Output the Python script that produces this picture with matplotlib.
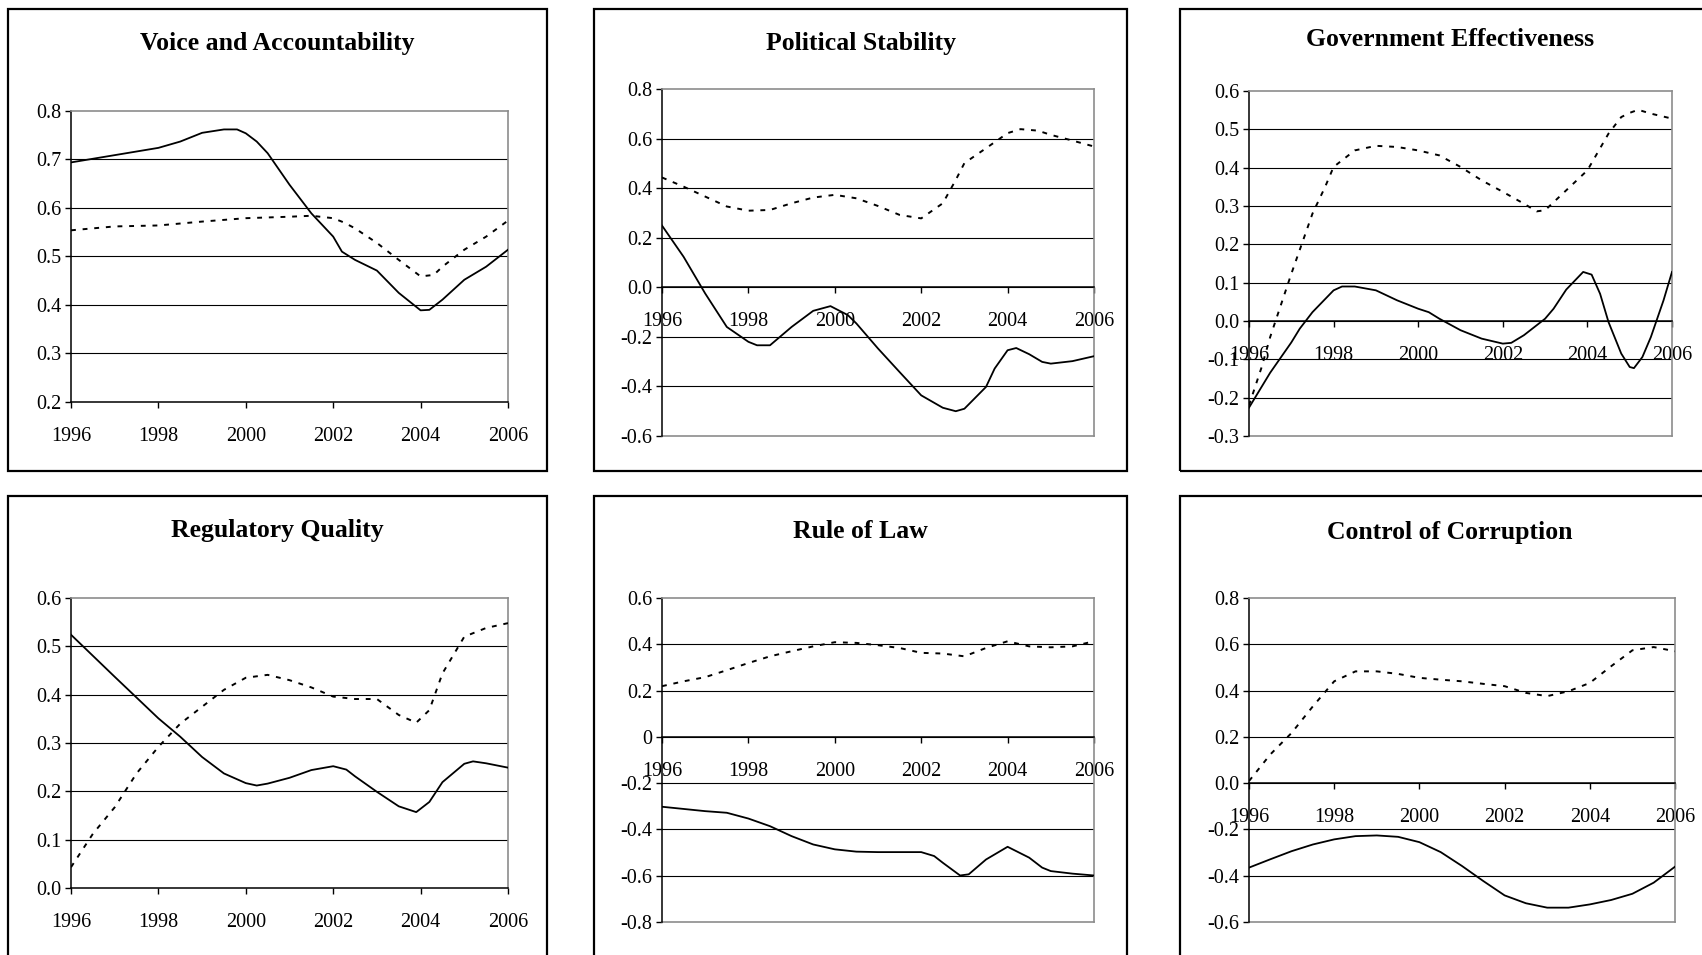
import matplotlib
matplotlib.use('Agg')
import matplotlib.pyplot as plt
from matplotlib.patches import Rectangle
import numpy as np

plt.rcParams['font.family'] = ['Liberation Serif', 'DejaVu Serif']
plt.rcParams['axes.unicode_minus'] = False

W, H = 1702, 955

# --- data ---
va_solid_x = [1996, 1997, 1998, 1998.5, 1999, 1999.5, 1999.8, 2000, 2000.25, 2000.5, 2001, 2001.5,
              2002, 2002.2, 2002.5, 2003, 2003.5, 2004, 2004.2, 2004.5, 2005, 2005.5, 2006]
va_solid = [0.694, 0.709, 0.724, 0.737, 0.755, 0.762, 0.762, 0.754, 0.737, 0.713, 0.648, 0.589,
            0.541, 0.510, 0.493, 0.471, 0.425, 0.389, 0.390, 0.411, 0.452, 0.479, 0.514]
va_dot_x = [1996, 1997, 1998, 1999, 2000, 2001, 2001.5, 2002, 2002.25, 2002.5, 2003, 2003.5,
            2004, 2004.3, 2004.5, 2005, 2005.5, 2006]
va_dot = [0.554, 0.562, 0.564, 0.572, 0.579, 0.582, 0.584, 0.579, 0.570, 0.558, 0.528, 0.493,
          0.459, 0.462, 0.479, 0.514, 0.541, 0.574]

ps_solid_x = [1996, 1996.5, 1997, 1997.5, 1998, 1998.2, 1998.5, 1999, 1999.5, 1999.9, 2000.3, 2000.5,
              2001, 2001.5, 2002, 2002.5, 2002.8, 2003, 2003.5, 2003.7, 2004, 2004.2, 2004.5,
              2004.8, 2005, 2005.5, 2006]
ps_solid = [0.249, 0.123, -0.025, -0.160, -0.220, -0.234, -0.234, -0.160, -0.095, -0.076, -0.112, -0.146,
            -0.247, -0.342, -0.436, -0.486, -0.500, -0.490, -0.402, -0.328, -0.254, -0.245, -0.270,
            -0.301, -0.308, -0.298, -0.278]
ps_dot_x = [1996, 1996.5, 1997, 1997.5, 1998, 1998.5, 1999, 1999.5, 2000, 2000.5, 2001, 2001.5,
            2002, 2002.5, 2002.8, 2003, 2003.5, 2004, 2004.3, 2004.7, 2005, 2005.5, 2006]
ps_dot = [0.443, 0.406, 0.366, 0.326, 0.309, 0.312, 0.339, 0.362, 0.373, 0.359, 0.328, 0.292,
          0.278, 0.339, 0.433, 0.501, 0.561, 0.622, 0.638, 0.632, 0.615, 0.592, 0.568]

ge_solid_x = [1996, 1996.5, 1997, 1997.2, 1997.5, 1998, 1998.2, 1998.5, 1999, 1999.5, 2000, 2000.25,
              2000.5, 2001, 2001.5, 2002, 2002.2, 2002.5, 2003, 2003.2, 2003.5, 2003.9, 2004.1,
              2004.3, 2004.5, 2004.8, 2005, 2005.1, 2005.3, 2005.5, 2005.8, 2006]
ge_solid = [-0.226, -0.135, -0.056, -0.020, 0.023, 0.080, 0.090, 0.090, 0.080, 0.054, 0.032, 0.023,
            0.006, -0.024, -0.046, -0.059, -0.057, -0.037, 0.006, 0.032, 0.082, 0.128, 0.121,
            0.071, -0.003, -0.085, -0.120, -0.123, -0.094, -0.042, 0.054, 0.128]
ge_dot_x = [1996, 1996.3, 1996.5, 1997, 1997.5, 1997.8, 1998, 1998.5, 1999, 1999.5, 2000, 2000.5,
            2001, 2001.5, 2002, 2002.5, 2002.8, 2003, 2003.5, 2004, 2004.5, 2004.8, 2005, 2005.2,
            2005.5, 2006]
ge_dot = [-0.220, -0.120, -0.042, 0.123, 0.280, 0.350, 0.402, 0.445, 0.457, 0.454, 0.445, 0.432,
          0.402, 0.367, 0.337, 0.306, 0.286, 0.289, 0.341, 0.393, 0.489, 0.532, 0.543, 0.551,
          0.541, 0.528]

rq_solid_x = [1996, 1997, 1998, 1998.5, 1999, 1999.5, 2000, 2000.25, 2000.5, 2001, 2001.5, 2002,
              2002.3, 2002.5, 2003, 2003.5, 2003.9, 2004.2, 2004.5, 2005, 2005.2, 2005.5, 2006]
rq_solid = [0.524, 0.437, 0.351, 0.313, 0.271, 0.237, 0.217, 0.212, 0.216, 0.228, 0.244, 0.252,
            0.245, 0.231, 0.199, 0.169, 0.157, 0.178, 0.219, 0.257, 0.262, 0.258, 0.249]
rq_dot_x = [1996, 1996.5, 1997, 1997.5, 1998, 1998.5, 1999, 1999.5, 2000, 2000.5, 2001, 2001.5,
            2002, 2002.5, 2003, 2003.5, 2003.9, 2004.2, 2004.5, 2005, 2005.5, 2006]
rq_dot = [0.043, 0.112, 0.167, 0.237, 0.292, 0.340, 0.375, 0.410, 0.435, 0.441, 0.430, 0.415,
          0.396, 0.391, 0.391, 0.358, 0.342, 0.368, 0.444, 0.520, 0.538, 0.548]

rl_solid_x = [1996, 1997, 1997.5, 1998, 1998.5, 1999, 1999.5, 2000, 2000.5, 2001, 2002, 2002.3,
              2002.5, 2002.9, 2003.1, 2003.5, 2004, 2004.5, 2004.8, 2005, 2005.5, 2006]
rl_solid = [-0.302, -0.321, -0.328, -0.353, -0.386, -0.429, -0.465, -0.486, -0.496, -0.498, -0.498, -0.515,
            -0.544, -0.599, -0.594, -0.530, -0.475, -0.522, -0.565, -0.580, -0.591, -0.599]
half_years = [1996, 1996.5, 1997, 1997.5, 1998, 1998.5, 1999, 1999.5, 2000, 2000.5, 2001,
              2001.5, 2002, 2002.5, 2003, 2003.5, 2004, 2004.5, 2005, 2005.5, 2006]
rl_dot = [0.219, 0.240, 0.258, 0.288, 0.319, 0.348, 0.370, 0.391, 0.409, 0.406, 0.396,
          0.384, 0.363, 0.360, 0.348, 0.384, 0.413, 0.391, 0.387, 0.391, 0.413]

cc_solid = [-0.365, -0.329, -0.294, -0.265, -0.243, -0.229, -0.226, -0.232, -0.255, -0.298, -0.358,
            -0.423, -0.485, -0.519, -0.538, -0.538, -0.524, -0.505, -0.478, -0.430, -0.361]
cc_dot = [0.009, 0.124, 0.217, 0.332, 0.440, 0.483, 0.483, 0.472, 0.455, 0.447, 0.440,
          0.429, 0.419, 0.390, 0.376, 0.397, 0.433, 0.505, 0.574, 0.588, 0.570]

titles = ['Voice and Accountability', 'Political Stability', 'Government Effectiveness',
          'Regulatory Quality', 'Rule of Law', 'Control of Corruption']
year_ticks = [1996, 1998, 2000, 2002, 2004, 2006]

# per panel: y range, tick step, how zero is written, where the x axis crosses
panels = [
    dict(title=titles[0], sx=va_solid_x, sy=va_solid, dx=va_dot_x, dy=va_dot,
         ylim=(0.2, 0.8), step=0.1, zero='0.0', cross=0.2,
         box=(8, 9, 547, 471), ax=(71, 111, 508, 402), ty=43),
    dict(title=titles[1], sx=ps_solid_x, sy=ps_solid, dx=ps_dot_x, dy=ps_dot,
         ylim=(-0.6, 0.8), step=0.2, zero='0.0', cross=0.0,
         box=(594, 9, 1127, 471), ax=(662, 89, 1094, 436), ty=43),
    dict(title=titles[2], sx=ge_solid_x, sy=ge_solid, dx=ge_dot_x, dy=ge_dot,
         ylim=(-0.3, 0.6), step=0.1, zero='0.0', cross=0.0,
         box=(1180, 9, 1730, 471), ax=(1249, 91, 1672, 436), ty=40),
    dict(title=titles[3], sx=rq_solid_x, sy=rq_solid, dx=rq_dot_x, dy=rq_dot,
         ylim=(0.0, 0.6), step=0.1, zero='0.0', cross=0.0,
         box=(8, 496, 547, 980), ax=(71, 598, 508, 888), ty=530),
    dict(title=titles[4], sx=rl_solid_x, sy=rl_solid, dx=half_years, dy=rl_dot,
         ylim=(-0.8, 0.6), step=0.2, zero='0', cross=0.0,
         box=(594, 496, 1127, 980), ax=(662, 598, 1094, 922), ty=532),
    dict(title=titles[5], sx=half_years, sy=cc_solid, dx=half_years, dy=cc_dot,
         ylim=(-0.6, 0.8), step=0.2, zero='0.0', cross=0.0,
         box=(1180, 496, 1730, 980), ax=(1249, 598, 1675, 922), ty=532),
]

fig = plt.figure(figsize=(W / 100, H / 100), dpi=100)
fig.patch.set_facecolor('white')

for p in panels:
    bx0, by0, bx1, by1 = p['box']
    fig.add_artist(Rectangle((bx0 / W, 1 - by1 / H), (bx1 - bx0) / W, (by1 - by0) / H,
                             transform=fig.transFigure, fill=False, ec='black', lw=1.6))
    # boxes on the right run off the page; centre the title on the visible 540 px
    tx = (bx0 + bx1) / 2 if bx1 < W else bx0 + 270
    fig.text(tx / W, 1 - p['ty'] / H, p['title'], ha='center', va='center',
             fontsize=18.5, fontweight='bold')

    x0, y0, x1, y1 = p['ax']
    ax = fig.add_axes([x0 / W, 1 - y1 / H, (x1 - x0) / W, (y1 - y0) / H])
    ymin, ymax = p['ylim']
    yt = np.round(np.arange(ymin, ymax + p['step'] / 2, p['step']), 2)
    ax.set_xlim(1996, 2006)
    ax.set_ylim(ymin, ymax)

    # inner gridlines only, the top edge is the grey plot-area border
    for v in yt[1:-1]:
        ax.axhline(v, color='black', lw=0.8, zorder=1)

    ax.plot(p['sx'], p['sy'], color='black', lw=1.3, zorder=3, solid_joinstyle='round')
    ax.plot(p['dx'], p['dy'], color='black', lw=1.4, ls=(0, (2.5, 3.5)), zorder=3)

    for s in ['top', 'right']:
        ax.spines[s].set_color('#8c8c8c')
        ax.spines[s].set_linewidth(1.2)
    ax.spines['left'].set_color('black')
    ax.spines['left'].set_linewidth(1.1)
    ax.spines['bottom'].set_color('black')
    ax.spines['bottom'].set_linewidth(1.1)
    if p['cross'] != ymin:
        ax.spines['bottom'].set_position(('data', p['cross']))
        ax.axhline(ymin, color='#8c8c8c', lw=1.2, zorder=2, clip_on=False)

    labels = [p['zero'] if abs(v) < 1e-9 else f'{v:.1f}' for v in yt]
    ax.set_yticks(yt)
    ax.set_yticklabels(labels)
    ax.set_xticks(year_ticks)
    ax.set_xticklabels([str(y) for y in year_ticks])
    ax.tick_params(axis='y', direction='out', length=4, width=1, pad=3, labelsize=14.5)
    ax.tick_params(axis='x', direction='out', length=4, width=1, pad=14, labelsize=14.5)
    ax.set_facecolor('none')

fig.savefig('out.png', dpi=100, facecolor='white')
